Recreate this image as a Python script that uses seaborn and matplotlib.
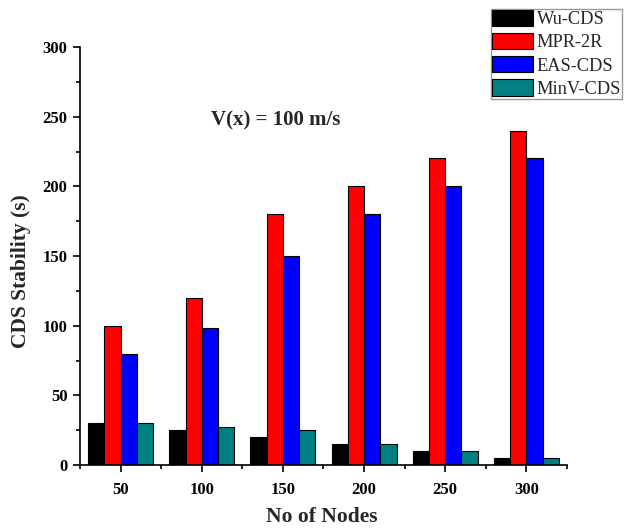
import matplotlib
matplotlib.use("Agg")
import matplotlib.pyplot as plt
import seaborn as sns
import pandas as pd
from matplotlib.ticker import MultipleLocator, FixedLocator

nodes = ["50", "100", "150", "200", "250", "300"]
wu_cds = [30, 25, 20, 15, 10, 5]
mpr_2r = [100, 120, 180, 200, 220, 240]
eas_cds = [80, 98, 150, 180, 200, 220]
minv_cds = [30, 27, 25, 15, 10, 5]
series_names = ["Wu-CDS", "MPR-2R", "EAS-CDS", "MinV-CDS"]
colors = ["#000000", "#ff0000", "#0000ff", "#008080"]

rows = []
for name, vals in zip(series_names, [wu_cds, mpr_2r, eas_cds, minv_cds]):
    for n, v in zip(nodes, vals):
        rows.append({"Nodes": n, "Method": name, "Value": v})
df = pd.DataFrame(rows)

sns.set_style("ticks")
plt.rcParams["font.family"] = ["Liberation Serif", "DejaVu Serif"]

W, H = 625, 528
fig = plt.figure(figsize=(W / 100, H / 100), dpi=100)
ax = fig.add_axes([80 / W, 1 - 465 / H, 487 / W, 418 / H])

sns.barplot(data=df, x="Nodes", y="Value", hue="Method", order=nodes,
            hue_order=series_names, palette=colors, width=0.8, saturation=1,
            edgecolor="black", linewidth=0.8, ax=ax, legend=True)

ax.set_xlim(-0.5, 5.5)
ax.set_ylim(0, 300)
ax.yaxis.set_major_locator(MultipleLocator(50))
ax.yaxis.set_minor_locator(MultipleLocator(25))
ax.xaxis.set_minor_locator(FixedLocator([i + 0.5 for i in range(-1, 6)]))
ax.tick_params(axis="both", which="major", direction="out", length=5, width=1.2,
               labelsize=12, colors="black")
ax.tick_params(axis="both", which="minor", direction="out", length=3, width=1.2,
               colors="black")
for lab in ax.get_xticklabels() + ax.get_yticklabels():
    lab.set_fontweight("bold")
ax.xaxis.set_tick_params(pad=7)
ax.yaxis.set_tick_params(pad=4)

for s in ["top", "right"]:
    ax.spines[s].set_visible(False)
for s in ["left", "bottom"]:
    ax.spines[s].set_linewidth(1.2)
    ax.spines[s].set_color("black")

ax.set_xlabel("")
ax.set_ylabel("")
fig.text(322 / W, 1 / H, "No of Nodes", fontsize=15.5, fontweight="bold",
         ha="center", va="bottom")
fig.text(21 / W, 1 - 271 / H, "CDS Stability (s)", fontsize=15.5,
         fontweight="bold", rotation=90, ha="center", va="center")

ax.text(0.268, 0.825, "V(x) = 100 m/s", transform=ax.transAxes, fontsize=15,
        fontweight="bold", va="center")

handles, labels = ax.get_legend_handles_labels()
leg = ax.legend(handles, labels, loc="upper left",
                bbox_to_anchor=(491 / W, 1 - 9 / H),
                bbox_transform=fig.transFigure, fontsize=13.2, frameon=True,
                fancybox=False, edgecolor="#808080", handlelength=2.25,
                handleheight=1.0, handletextpad=0.2, labelspacing=0.25,
                borderpad=0.05, borderaxespad=0)
leg.get_frame().set_linewidth(1.0)

fig.savefig("out.png", dpi=100)
